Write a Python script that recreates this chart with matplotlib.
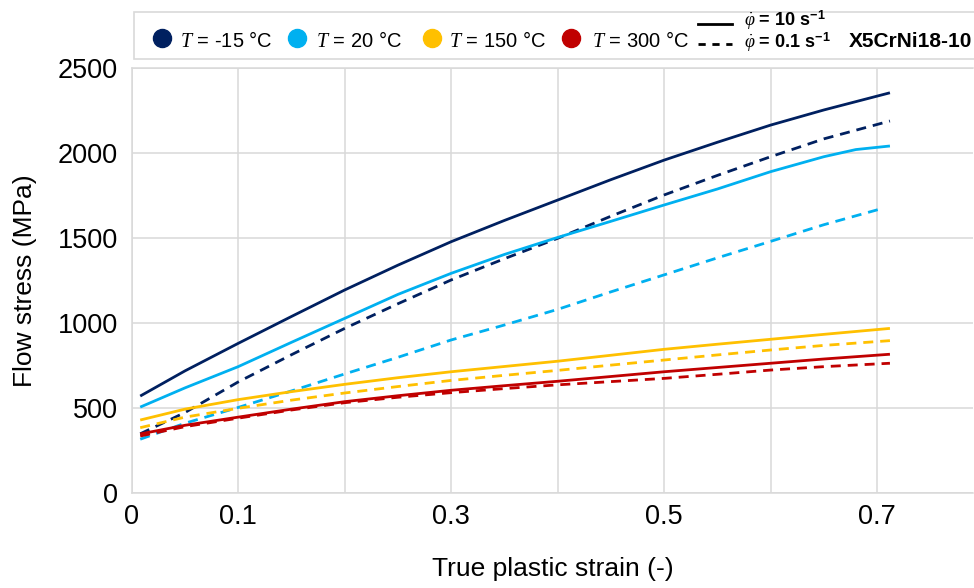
import matplotlib
matplotlib.use("Agg")
import matplotlib.pyplot as plt
from matplotlib.lines import Line2D
from matplotlib.patches import Rectangle

plt.rcParams["font.family"] = ["Liberation Sans", "DejaVu Sans"]
plt.rcParams["mathtext.fontset"] = "custom"
plt.rcParams["mathtext.rm"] = "Liberation Sans"
plt.rcParams["mathtext.it"] = "Liberation Serif:italic"
plt.rcParams["mathtext.bf"] = "Liberation Sans:bold"

# true plastic strain (-)
strain = [0.008, 0.05, 0.1, 0.15, 0.2, 0.25, 0.3, 0.35, 0.4, 0.45, 0.5, 0.55, 0.6, 0.65, 0.712]
strain_20_fast = [0.008, 0.05, 0.1, 0.15, 0.2, 0.25, 0.3, 0.35, 0.4, 0.45, 0.5, 0.55, 0.6, 0.65, 0.68, 0.712]
strain_20_slow = [0.008, 0.05, 0.1, 0.15, 0.2, 0.25, 0.3, 0.35, 0.4, 0.45, 0.5, 0.55, 0.6, 0.65, 0.705]

# flow stress (MPa), fast = 10 1/s, slow = 0.1 1/s
m15_fast = [572, 720, 882, 1040, 1196, 1342, 1480, 1605, 1725, 1845, 1960, 2065, 2166, 2255, 2356]
m15_slow = [350, 475, 655, 815, 970, 1115, 1255, 1380, 1500, 1630, 1755, 1870, 1980, 2085, 2190]
p20_fast = [507, 620, 745, 888, 1029, 1170, 1294, 1405, 1505, 1600, 1696, 1790, 1892, 1980, 2022, 2043]
p20_slow = [318, 412, 505, 602, 702, 800, 902, 990, 1082, 1185, 1285, 1385, 1482, 1580, 1676]
p150_fast = [431, 495, 551, 598, 641, 680, 715, 746, 777, 812, 847, 877, 906, 935, 970]
p150_slow = [386, 448, 500, 548, 590, 628, 664, 694, 723, 754, 784, 814, 843, 870, 898]
p300_fast = [349, 400, 448, 495, 539, 574, 606, 633, 659, 687, 715, 740, 765, 790, 818]
p300_slow = [337, 392, 442, 490, 533, 565, 592, 616, 638, 657, 676, 700, 725, 745, 765]

temp_labels = ["-15", "20", "150", "300"]
colors = ["#002060", "#00B0F0", "#FFC000", "#C00000"]

x_major = [0, 0.1, 0.3, 0.5, 0.7]
x_minor = [0.2, 0.4, 0.6]
y_ticks = [0, 500, 1000, 1500, 2000, 2500]

W, H = 974, 588
fig = plt.figure(figsize=(W / 100, H / 100), dpi=100)
ax = fig.add_axes([131.7 / W, 1 - 493.3 / H, (973 - 131.7) / W, 425 / H])

fast = [m15_fast, p20_fast, p150_fast, p300_fast]
fast_x = [strain, strain_20_fast, strain, strain]
slow = [m15_slow, p20_slow, p150_slow, p300_slow]
slow_x = [strain, strain_20_slow, strain, strain]
lw = 2.0
for c, xf, yf, xs, ys in zip(colors, fast_x, fast, slow_x, slow):
    ax.plot(xf, yf, color=c, lw=lw, solid_capstyle="butt", solid_joinstyle="round")
    ax.plot(xs, ys, color=c, lw=lw, linestyle=(0, (3.6, 2.5)))

ax.set_xlim(0, 0.79)
ax.set_ylim(0, 2500)
ax.set_xticks(x_major)
ax.set_xticklabels(["0", "0.1", "0.3", "0.5", "0.7"])
ax.set_xticks(x_minor, minor=True)
ax.set_yticks(y_ticks)
grid_c = "#D9D9D9"
ax.grid(True, which="both", color=grid_c, lw=1.1)
ax.set_axisbelow(True)
ax.tick_params(which="both", length=0, labelsize=19.5, colors="black")
ax.tick_params(axis="x", pad=8)
ax.tick_params(axis="y", pad=10)
for s in ["left", "bottom", "top"]:
    ax.spines[s].set_color(grid_c)
    ax.spines[s].set_linewidth(1.1)
ax.spines["right"].set_visible(False)

ax.set_xlabel("True plastic strain (-)", fontsize=19)
ax.xaxis.set_label_coords(0.5, -0.15)
ax.set_ylabel("Flow stress (MPa)", fontsize=19)
ax.yaxis.set_label_coords(-0.113, 0.5)


def fx(px):
    return px / W


def fy(py):
    return 1 - py / H


# legend box
fig.add_artist(Rectangle((fx(134), fy(59.3)), fx(990) - fx(134), fy(11.7) - fy(59.3),
                         transform=fig.transFigure, facecolor="white",
                         edgecolor=grid_c, lw=1.2))

circle_x = [161.7, 296.7, 432, 571]
text_x = [180, 316, 449.3, 592.3]
for c, cx, tx, t in zip(colors, circle_x, text_x, temp_labels):
    fig.add_artist(Line2D([fx(cx)], [fy(37.5)], transform=fig.transFigure,
                          marker="o", markersize=13, color=c, lw=0))
    fig.text(fx(tx), fy(46.7), "$T$ = " + t + " °C", fontsize=14.5, va="baseline")

fig.add_artist(Line2D([fx(698), fx(732)], [fy(24), fy(24)], transform=fig.transFigure,
                      color="black", lw=2))
fig.add_artist(Line2D([fx(698), fx(732)], [fy(44.3), fy(44.3)], transform=fig.transFigure,
                      color="black", lw=2, linestyle=(0, (2.6, 2.4))))
fig.text(fx(744), fy(26.5), r"$\dot{\varphi}$ = 10 s$^{\mathbf{-1}}$", fontsize=13,
         fontweight="bold", va="baseline")
fig.text(fx(744), fy(48.5), r"$\dot{\varphi}$ = 0.1 s$^{\mathbf{-1}}$", fontsize=13,
         fontweight="bold", va="baseline")
fig.text(fx(849), fy(46.7), "X5CrNi18-10", fontsize=15, fontweight="bold", va="baseline")

fig.savefig("out.png", dpi=100)
